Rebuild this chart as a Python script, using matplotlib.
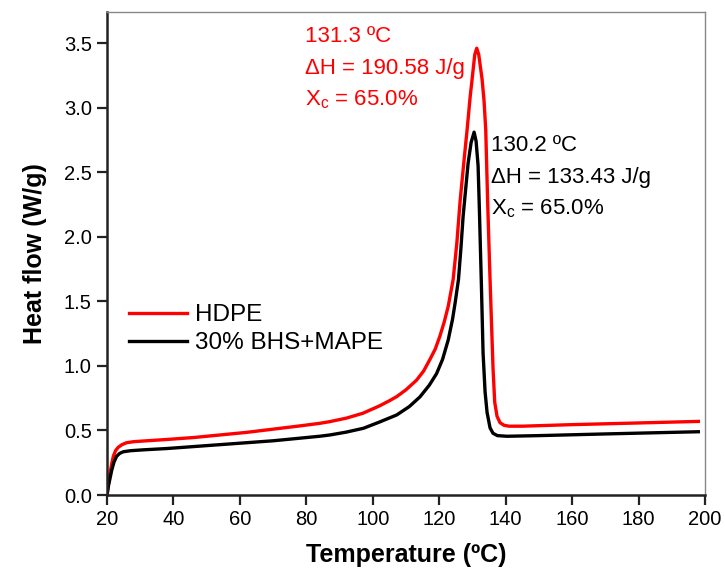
import matplotlib
matplotlib.use("Agg")
import matplotlib.pyplot as plt

plt.rcParams['font.family'] = ['Liberation Sans', 'DejaVu Sans']
plt.rcParams['mathtext.fontset'] = 'custom'
plt.rcParams['mathtext.rm'] = 'Liberation Sans'
plt.rcParams['mathtext.it'] = 'Liberation Sans'

# HDPE
t_hdpe = [20, 20.4, 20.9, 21.4, 21.9, 22.6, 23.4, 24.5, 25.9, 28, 32, 38, 46, 54, 62, 70, 78,
          84, 87, 92, 97, 102, 105, 107.2, 110, 113.2, 115.3, 117.2, 118.8, 120.2, 121.5,
          122.7, 124.2, 125.3, 126.3, 127.5, 128.4, 129.3, 129.9, 130.7, 131.3, 131.9, 132.9,
          133.5, 134.0, 134.6, 135.2, 135.7, 136.2, 136.7, 137.4, 138.3, 139.5, 141, 145,
          160, 180, 198]
hf_hdpe = [0, 0.08, 0.17, 0.24, 0.30, 0.345, 0.37, 0.39, 0.405, 0.413, 0.42, 0.43, 0.445,
           0.465, 0.485, 0.51, 0.535, 0.555, 0.568, 0.595, 0.633, 0.69, 0.73, 0.762, 0.815,
           0.89, 0.96, 1.05, 1.13, 1.23, 1.34, 1.46, 1.67, 1.95, 2.28, 2.60, 2.83, 3.08, 3.22,
           3.41, 3.46, 3.41, 3.22, 3.05, 2.83, 2.25, 1.75, 1.36, 0.98, 0.72, 0.61, 0.56, 0.54,
           0.533, 0.533, 0.545, 0.558, 0.57]

# 30% BHS+MAPE
t_bhs = [20, 20.5, 21, 21.4, 22.1, 22.9, 23.8, 24.9, 27, 31, 38, 46, 54, 62, 70, 78, 84,
         87.1, 92, 97.2, 102, 107.2, 111, 114.2, 117, 119.2, 121, 122.7, 124, 124.8, 125.8,
         126.5, 127.2, 128, 128.7, 129.6, 130.5, 131.1, 131.7, 132.1, 132.7, 133.2, 133.8,
         134.4, 135.3, 136.2, 137.5, 140.4, 150, 170, 198]
hf_bhs = [0, 0.08, 0.14, 0.19, 0.255, 0.30, 0.322, 0.335, 0.343, 0.35, 0.36, 0.375, 0.39,
          0.405, 0.42, 0.44, 0.455, 0.465, 0.487, 0.517, 0.565, 0.62, 0.685, 0.76, 0.85,
          0.94, 1.05, 1.20, 1.36, 1.49, 1.67, 1.90, 2.16, 2.38, 2.57, 2.73, 2.81, 2.74, 2.55,
          2.20, 1.62, 1.10, 0.80, 0.64, 0.52, 0.478, 0.46, 0.455, 0.46, 0.473, 0.49]

series_labels = ["HDPE", "30% BHS+MAPE"]
colors = ["#ff0000", "#000000"]

x_ticks = [20, 40, 60, 80, 100, 120, 140, 160, 180, 200]
y_ticks = [0.0, 0.5, 1.0, 1.5, 2.0, 2.5, 3.0, 3.5]

fig = plt.figure(figsize=(7.25, 5.74), dpi=100)
ax = fig.add_axes([0.1476, 0.1376, 0.8248, 0.8414])

ax.plot(t_hdpe, hf_hdpe, color=colors[0], lw=2.4, label=series_labels[0],
        solid_joinstyle='round')
ax.plot(t_bhs, hf_bhs, color=colors[1], lw=2.4, label=series_labels[1],
        solid_joinstyle='round')

ax.set_xlim(20, 200)
ax.set_ylim(0, 3.74)
ax.set_xticks(x_ticks)
ax.set_yticks(y_ticks)
ax.set_yticklabels([f"{v:.1f}" for v in y_ticks])
ax.tick_params(direction='out', length=7, width=1.6, labelsize=14.5, pad=4, color='#222222')
for s in ['left', 'bottom']:
    ax.spines[s].set_linewidth(1.8)
    ax.spines[s].set_color('#222222')
for s in ['top', 'right']:
    ax.spines[s].set_linewidth(1.0)
    ax.spines[s].set_color('#888888')

ax.set_xlabel("Temperature (ºC)", fontsize=18, fontweight='bold', labelpad=10)
ax.set_ylabel("Heat flow (W/g)", fontsize=18, fontweight='bold', labelpad=12)

leg = ax.legend(loc='upper left', bbox_to_anchor=(0.036, 0.395), frameon=False,
                fontsize=17.5, handlelength=2.4, handletextpad=0.35, borderpad=0,
                borderaxespad=0, labelspacing=0.25)

# annotations
fs_ann = 16
ax.text(79.6, 3.55, "131.3 ºC", color=colors[0], fontsize=fs_ann, va='center', ha='left')
ax.text(79.6, 3.30, "ΔH = 190.58 J/g", color=colors[0], fontsize=fs_ann, va='center', ha='left')
ax.text(79.6, 3.06, "X$_\\mathregular{c}$ = 65.0%", color=colors[0], fontsize=fs_ann,
        va='center', ha='left')

ax.text(135.5, 2.71, "130.2 ºC", color=colors[1], fontsize=fs_ann, va='center', ha='left')
ax.text(135.5, 2.46, "ΔH = 133.43 J/g", color=colors[1], fontsize=fs_ann, va='center', ha='left')
ax.text(135.5, 2.22, "X$_\\mathregular{c}$ = 65.0%", color=colors[1], fontsize=fs_ann,
        va='center', ha='left')

fig.savefig("out.png", dpi=100)
